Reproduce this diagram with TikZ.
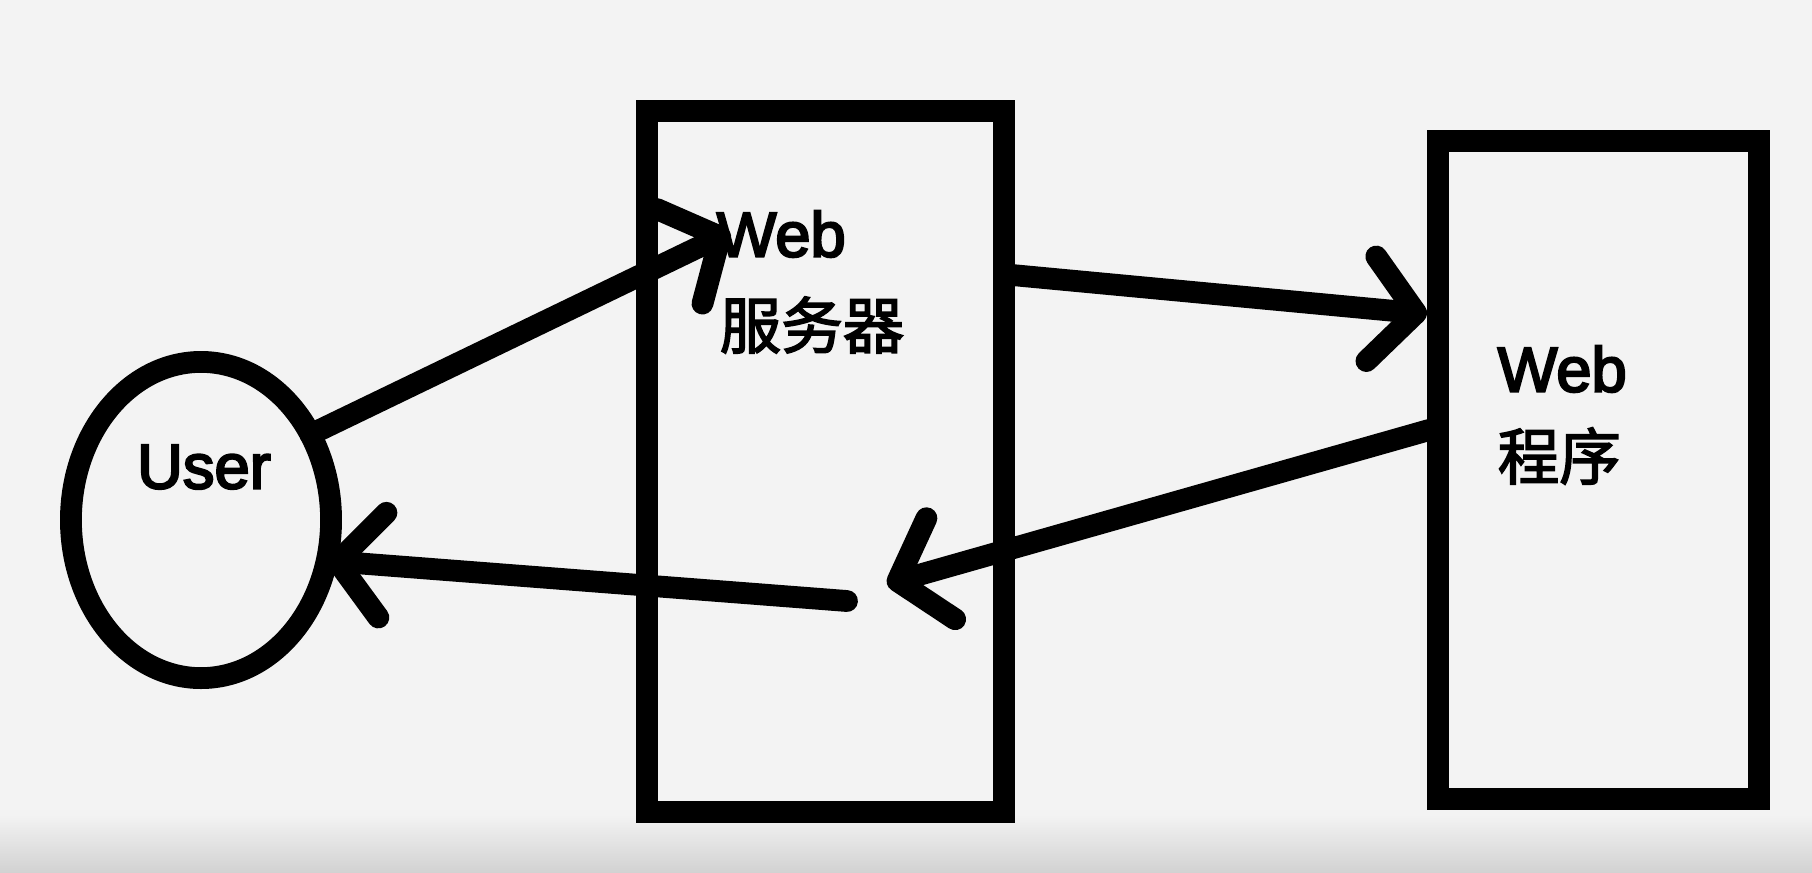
\documentclass[tikz,border=0pt]{standalone}
\usepackage{fontspec}
\setmainfont{Liberation Sans}
\newfontfamily\heavy{Liberation Sans}[FakeBold=3.5]
\newfontfamily\cjk{Noto Sans CJK SC}[FakeBold=2.5]
\usetikzlibrary{arrows.meta,shapes.geometric}
\definecolor{bg}{HTML}{F3F3F3}
\definecolor{bgdark}{HTML}{D2D2D2}
\tikzset{
  stroke/.style={draw=black, line width=6.2pt},
  box/.style={stroke, rectangle, inner sep=0pt, outer sep=0pt},
  usershape/.style={stroke, ellipse, inner sep=0pt, outer sep=0pt, minimum width=2.60cm, minimum height=3.16cm},
  label/.style={inner sep=0pt, anchor=west, font=\heavy\fontsize{18}{22}\selectfont},
  cjklabel/.style={inner sep=0pt, anchor=west, font=\cjk\fontsize{17.5}{21}\selectfont},
  flow/.style={line width=6.2pt, line cap=round, line join=round,
    -{Straight Barb[round, length=0.45cm, width=1.05cm]}}
}
\begin{document}
\begin{tikzpicture}[x=0.01cm, y=-0.01cm]
  \useasboundingbox (0,0) rectangle (1812,872);
  \fill[bg] (0,0) rectangle (1812,872);
  \shade[top color=bg, bottom color=bgdark] (0,815) rectangle (1812,872);

  % shapes
  \node[usershape] (user) at (201,520) {};
  \node[box, minimum width=3.57cm, minimum height=7.01cm] (server) at (825.5,461.5) {};
  \node[box, minimum width=3.21cm, minimum height=6.58cm] (prog) at (1598.5,470) {};

  % texts
  \node[inner sep=0pt, font=\heavy\fontsize{18}{22}\selectfont] (usertext) at (204,467) {User};
  \node[label] (web1) at (716,234) {Web};
  \node[cjklabel] (srv) at (719,325) {服务器};
  \node[label] (web2) at (1497,369) {Web};
  \node[cjklabel] (cx) at (1497,456) {程序};

  % arrow end points
  \coordinate (a1t) at (730,232);
  \coordinate (a2s) at (1012,275);
  \coordinate (a2t) at (1427,314);
  \coordinate (a3s) at (1429,430);
  \coordinate (a3t) at (887,584);
  \coordinate (a4s) at (847,601);

  % connectors
  \draw[flow] (user.38) -- (a1t);
  \draw[flow] (a2s) -- (a2t);
  \draw[flow] (a3s) -- (a3t);
  \draw[flow] (a4s) -- (user.-18);
\end{tikzpicture}
\end{document}
